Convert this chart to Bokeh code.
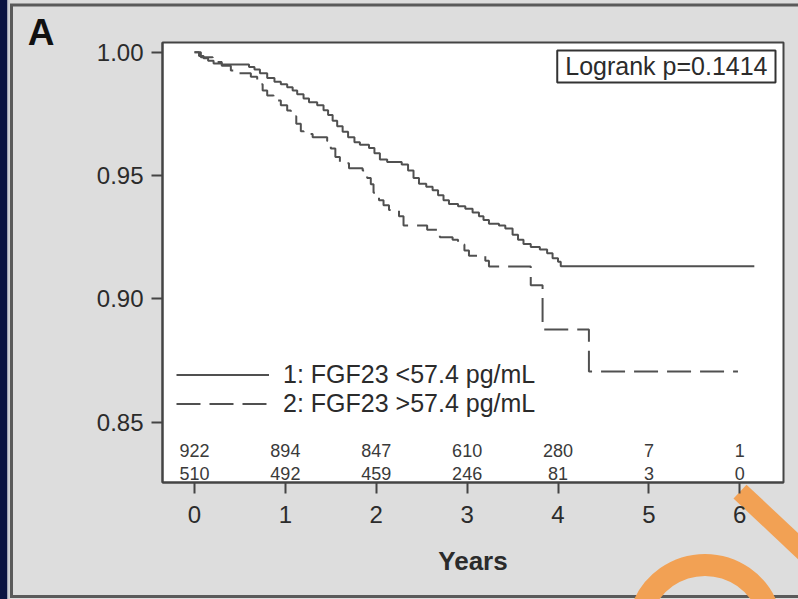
from urllib.parse import quote
from bokeh.plotting import figure
from bokeh.models import (Range1d, FixedTicker, Legend, LegendItem, Label,
                          LinearAxis, PrintfTickFormatter)
from bokeh.core.properties import value
from bokeh.embed import file_html
from bokeh.resources import INLINE

# ---------------- data ----------------
years_low = [0.00, 0.05, 0.10, 0.15, 0.21, 0.30, 0.60, 0.66, 0.72, 0.80, 0.88, 0.95,
             1.02, 1.08, 1.13, 1.20, 1.26, 1.35, 1.42, 1.47, 1.52, 1.57, 1.63, 1.69,
             1.76, 1.82, 1.92, 1.98, 2.04, 2.12, 2.28, 2.35, 2.41, 2.47, 2.55, 2.62,
             2.68, 2.74, 2.80, 2.90, 2.98, 3.06, 3.13, 3.18, 3.24, 3.35, 3.42, 3.50,
             3.56, 3.62, 3.70, 3.80, 3.88, 3.94, 4.00, 4.03]
surv_low = [1.0000, 0.9985, 0.9975, 0.9965, 0.9954, 0.9950, 0.9940, 0.9930, 0.9915,
            0.9895, 0.9880, 0.9870, 0.9858, 0.9845, 0.9830, 0.9812, 0.9797, 0.9785,
            0.9765, 0.9745, 0.9722, 0.9700, 0.9677, 0.9655, 0.9635, 0.9625, 0.9612,
            0.9590, 0.9565, 0.9555, 0.9545, 0.9520, 0.9490, 0.9467, 0.9455, 0.9440,
            0.9420, 0.9400, 0.9385, 0.9375, 0.9365, 0.9350, 0.9335, 0.9320, 0.9305,
            0.9297, 0.9285, 0.9260, 0.9240, 0.9222, 0.9210, 0.9200, 0.9185, 0.9165,
            0.9150, 0.9132]
last_low = 6.16

years_high = [0.00, 0.07, 0.20, 0.30, 0.40, 0.48, 0.62, 0.69, 0.75, 0.80, 0.87, 0.95,
              1.02, 1.06, 1.12, 1.17, 1.20, 1.30, 1.46, 1.50, 1.55, 1.60, 1.70, 1.85,
              1.90, 1.94, 1.97, 2.03, 2.08, 2.14, 2.25, 2.30, 2.56, 2.70, 2.84, 2.90,
              2.97, 3.02, 3.20, 3.24, 3.70, 3.83, 4.34]
surv_high = [1.0000, 0.9980, 0.9960, 0.9945, 0.9926, 0.9915, 0.9900, 0.9870, 0.9845,
             0.9824, 0.9804, 0.9785, 0.9764, 0.9740, 0.9710, 0.9680, 0.9668, 0.9655,
             0.9640, 0.9610, 0.9575, 0.9550, 0.9530, 0.9520, 0.9490, 0.9465, 0.9430,
             0.9400, 0.9380, 0.9360, 0.9335, 0.9297, 0.9280, 0.9250, 0.9240, 0.9220,
             0.9196, 0.9175, 0.9155, 0.9131, 0.9055, 0.8876, 0.8705]
last_high = 5.98

risk_years = [0, 1, 2, 3, 4, 5, 6]
risk_low = [922, 894, 847, 610, 280, 7, 1]
risk_high = [510, 492, 459, 246, 81, 3, 0]

x_ticks = [0, 1, 2, 3, 4, 5, 6]
y_ticks = [0.85, 0.90, 0.95, 1.00]
legend_labels = ["1: FGF23 <57.4 pg/mL", "2: FGF23 >57.4 pg/mL"]
logrank_text = "Logrank p=0.1414"
panel_letter = "A"
x_title = "Years"

# ---------------- styling ----------------
FONT = "Liberation Sans"
INK = "#2b2b2b"
LINE = "#505050"
PANEL = "#dddddd"
W, H = 798, 599

# page backdrop (slide strip, panel frame and the orange pen marks)
backdrop = f'''<svg xmlns="http://www.w3.org/2000/svg" width="{W}" height="{H}">
<rect x="0" y="0" width="{W}" height="{H}" fill="{PANEL}"/>
<rect x="0" y="0" width="7.5" height="{H}" fill="#0b1342"/>
<rect x="7.5" y="0" width="2" height="{H}" fill="#c9cad2"/>
<polyline points="{W + 5},5 11.5,5 11.5,596.5 {W + 5},596.5" fill="none" stroke="#5a5a5a" stroke-width="3"/>
<line x1="740" y1="491.6" x2="849.4" y2="594.4" stroke="#f2a154" stroke-width="19"/>
<path d="M 642 609.1 A 67 67 0 0 1 768 609.1" fill="none" stroke="#f2a154" stroke-width="22"/>
</svg>'''

p = figure(width=W, height=H, output_backend="svg", toolbar_location=None,
           x_range=Range1d(-0.352, 6.481), y_range=Range1d(0.82555, 1.00393),
           min_border_left=162, min_border_right=15, min_border_top=42,
           min_border_bottom=117)
p.styles = {"background-color": PANEL,
            "background-image": 'url("data:image/svg+xml,' + quote(backdrop) + '")',
            "background-repeat": "no-repeat"}
p.border_fill_alpha = 0
p.background_fill_color = "white"
p.outline_line_color = "#444444"
p.outline_line_width = 2
p.grid.visible = False

# axes
for ax in (p.xaxis[0], p.yaxis[0]):
    ax.axis_line_color = "#444444"
    ax.axis_line_width = 2
    ax.major_tick_line_color = "#444444"
    ax.major_tick_line_width = 2
    ax.major_tick_in = 0
    ax.major_tick_out = 11
    ax.minor_tick_line_color = None
    ax.major_label_text_font = FONT
    ax.major_label_text_font_size = "24px"
    ax.major_label_text_color = INK

p.xaxis.ticker = FixedTicker(ticks=x_ticks)
p.xaxis.major_label_standoff = 12
p.xaxis.axis_label = x_title
p.xaxis.axis_label_text_font = FONT
p.xaxis.axis_label_text_font_size = "26px"
p.xaxis.axis_label_text_font_style = "bold"
p.xaxis.axis_label_text_color = INK
p.xaxis.axis_label_standoff = 20

p.yaxis.ticker = FixedTicker(ticks=y_ticks)
p.yaxis.formatter = PrintfTickFormatter(format="%.2f")
p.yaxis.major_label_standoff = 8

# panel letter as the single label of an outer left axis
p.extra_y_ranges = {"letter": Range1d(-425.0, 15.0)}
letter_axis = LinearAxis(y_range_name="letter", ticker=FixedTicker(ticks=[0]),
                         major_label_overrides={0: panel_letter + "\n "},
                         axis_line_color=None, major_tick_line_color=None,
                         minor_tick_line_color=None, major_tick_in=0, major_tick_out=0,
                         major_label_standoff=39, major_label_text_font=FONT,
                         major_label_text_font_size="37px",
                         major_label_text_font_style="bold",
                         major_label_text_color="#111111")
p.add_layout(letter_axis, "left")

# curves
r1 = p.step(x=years_low + [last_low], y=surv_low + [surv_low[-1]], mode="after",
            line_color=LINE, line_width=2)
r2 = p.step(x=years_high + [last_high], y=surv_high + [surv_high[-1]], mode="after",
            line_color=LINE, line_width=2, line_dash="24 9")

# numbers at risk
risk_row_y = [0.8384, 0.8294]
p.text(x=risk_years, y=[risk_row_y[0]] * len(risk_years), text=[str(v) for v in risk_low],
       text_align="center", text_baseline="middle", text_font=value(FONT),
       text_font_size="18px", text_color="#3a3a3a")
p.text(x=risk_years, y=[risk_row_y[1]] * len(risk_years), text=[str(v) for v in risk_high],
       text_align="center", text_baseline="middle", text_font=value(FONT),
       text_font_size="18px", text_color="#3a3a3a")

# legend
legend = Legend(items=[LegendItem(label=legend_labels[0], renderers=[r1]),
                       LegendItem(label=legend_labels[1], renderers=[r2])],
                location=(14, 64), orientation="vertical",
                background_fill_alpha=0, border_line_color=None,
                padding=0, margin=0, spacing=0,
                glyph_width=93, glyph_height=29, label_height=29,
                label_standoff=14, label_text_font=FONT,
                label_text_font_size="25px", label_text_color=INK)
p.add_layout(legend)

# logrank box
p.add_layout(Label(x=6.393, y=1.00069, text=logrank_text, anchor="top_right",
                   text_font=FONT, text_font_size="25px", text_color=INK,
                   border_line_color="#333333", border_line_width=2,
                   background_fill_color="white", padding=(8, 2)))

open("out.html", "w").write(file_html(p, INLINE))
